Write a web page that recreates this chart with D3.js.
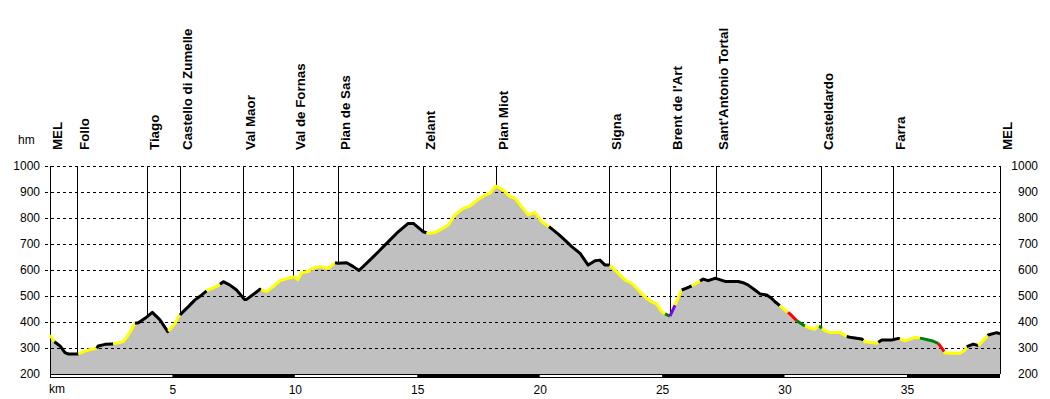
<!DOCTYPE html>
<html><head><meta charset="utf-8">
<script src="https://cdn.jsdelivr.net/npm/d3@7"></script>
<style>
body{margin:0;background:#fff}
text{font-family:Arial,"Liberation Sans",sans-serif}
</style>
</head><body>
<svg id="c" width="1050" height="399"></svg>
<script>
// ---- data ----
const kmPts = [0,0.18,0.41,0.61,0.75,1.16,1.29,1.56,1.91,1.97,2.25,2.52,2.99,3.20,3.47,3.61,3.88,4.18,4.49,4.81,4.90,5.11,5.24,5.44,5.65,5.92,6.20,6.40,6.87,7.08,7.35,7.62,7.94,8.03,8.58,8.85,9.12,9.39,9.73,10.01,10.12,10.28,10.55,10.69,11.03,11.37,11.64,11.77,12.12,12.39,12.62,13.00,13.41,13.82,14.22,14.63,14.84,15.25,15.45,15.72,15.93,16.27,16.54,16.88,17.15,17.43,17.77,17.97,18.20,18.51,18.79,18.99,19.26,19.53,19.81,20.08,20.42,20.76,21.03,21.31,21.65,21.98,22.26,22.46,22.67,22.87,23.14,23.48,23.76,23.96,24.16,24.37,24.57,24.78,24.98,25.12,25.32,25.53,25.73,25.80,26.00,26.27,26.55,26.68,26.88,27.16,27.29,27.57,28.11,28.31,28.52,28.79,29.00,29.27,29.47,29.61,29.81,30.02,30.22,30.50,30.77,31.04,31.24,31.38,31.45,31.65,31.86,32.26,32.54,32.74,33.15,33.29,33.76,33.97,34.38,34.65,34.92,35.33,35.60,36.01,36.28,36.48,36.55,36.83,37.17,37.37,37.44,37.71,37.92,38.19,38.32,38.66,38.80];
const elevPts = [350,324,308,282,277,277,283,292,299,308,314,315,324,350,395,397,414,437,408,363,372,395,420,440,459,485,504,520,540,555,542,523,487,487,526,517,536,559,568,574,562,590,594,606,613,606,628,626,628,613,598,632,670,709,747,779,779,747,741,744,754,773,812,837,846,867,888,895,923,908,882,876,844,812,821,786,764,738,715,690,664,619,636,638,619,619,594,562,549,530,510,491,478,469,440,431,423,465,510,523,530,542,558,565,559,568,565,556,556,551,542,523,508,504,491,478,463,446,431,405,388,376,372,385,382,367,360,360,344,340,335,324,318,331,331,337,328,341,337,328,318,292,282,280,280,292,305,315,309,337,350,359,355];

const waypointNames = ["MEL","Follo","Tiago","Castello di Zumelle","Val Maor","Val de Fornas","Pian de Sas","Zelant","Pian Miot","Signa","Brent de l'Art","Sant'Antonio Tortal","Casteldardo","Farra","MEL"];
const waypointKm = [0,1.10,3.97,5.32,7.89,9.93,11.78,15.24,18.20,22.83,25.32,27.21,31.50,34.42,38.80];

const segStartKm = [0,0.18,1.16,1.91,2.58,3.47,4.83,5.31,6.40,6.94,8.62,11.64,15.38,20.38,22.87,25.12,25.32,25.53,25.80,26.21,26.55,29.81,30.14,30.50,30.84,31.41,31.53,32.54,33.22,33.83,34.71,35.53,36.28,36.52,37.44,37.92,38.30];
const segType = ["y","k","y","k","y","k","y","k","y","k","y","k","y","k","y","g","v","y","k","y","k","y","r","g","y","g","y","k","y","k","y","g","r","y","k","y","k"];

const yTicks = [200,300,400,500,600,700,800,900,1000];
const xTicks = [5,10,15,20,25,30,35];
const totalKm = 38.8;

// ---- drawing ----
const typeColor = {y:"#ffff00", k:"#000000", g:"#008000", r:"#ff0000", v:"#8000ff"};
const svg = d3.select("#c");
const x = d3.scaleLinear().domain([0, totalKm]).range([50, 1000]);
const y = d3.scaleLinear().domain([200, 1000]).range([374, 166]);
const pts = kmPts.map((k,i)=>({k, e: elevPts[i]}));
const fmt = d3.format("d");
const FONT = "Arial, 'Liberation Sans', sans-serif";

function elevAt(k){
  const i = d3.bisectRight(kmPts, k);
  if (i <= 0) return elevPts[0];
  if (i >= kmPts.length) return elevPts[elevPts.length-1];
  const t = (k - kmPts[i-1]) / (kmPts[i] - kmPts[i-1]);
  return elevPts[i-1] + t * (elevPts[i] - elevPts[i-1]);
}

// filled area
svg.append("path").datum(pts)
  .attr("fill", "#c0c0c0")
  .attr("d", d3.area().x(d=>x(d.k)).y0(y(200)).y1(d=>y(d.e)));

// dashed gridlines
svg.append("g").selectAll("line").data(yTicks.filter(v=>v>200)).join("line")
  .attr("x1", 45).attr("x2", 1000)
  .attr("y1", d=>y(d)+0.5).attr("y2", d=>y(d)+0.5)
  .attr("stroke", "#000").attr("stroke-width", 1)
  .attr("stroke-dasharray", "3,3");

// left axis
const gl = svg.append("g").attr("transform", "translate(50,0)")
  .call(d3.axisLeft(y).tickValues(yTicks).tickFormat(fmt).tickSize(0).tickPadding(10));
gl.select(".domain").remove();
gl.selectAll("text").attr("font-size", 12).attr("fill", "#000").attr("font-family", FONT);

// right axis
const gr = svg.append("g").attr("transform", "translate(1000,0)")
  .call(d3.axisRight(y).tickValues(yTicks).tickFormat(fmt).tickSize(0).tickPadding(38));
gr.select(".domain").remove();
gr.selectAll("text").attr("text-anchor", "end").attr("font-size", 12).attr("fill", "#000").attr("font-family", FONT);

// bottom axis labels
const gb = svg.append("g").attr("transform", "translate(0,374)")
  .call(d3.axisBottom(x).tickValues(xTicks).tickFormat(fmt).tickSize(0).tickPadding(11));
gb.select(".domain").remove();
gb.selectAll("text").attr("font-size", 12).attr("fill", "#000").attr("font-family", FONT);

svg.append("text").attr("x", 49).attr("y", 393).attr("font-size", 12).text("km");
svg.append("text").attr("x", 18).attr("y", 144).attr("font-size", 12).text("hm");

// waypoint lines & labels
waypointKm.forEach((k,i)=>{
  const edge = (i === 0 || i === waypointKm.length-1);
  const xx = Math.round(x(k)) + 0.5;
  svg.append("line")
    .attr("x1", xx).attr("x2", xx)
    .attr("y1", 166).attr("y2", edge ? 374 : y(elevAt(k)))
    .attr("stroke", "#000").attr("stroke-width", 1);
  svg.append("text")
    .attr("transform", `translate(${xx+11},150) rotate(-90)`)
    .attr("font-size", 13.33).attr("font-weight", "bold").attr("fill", "#000")
    .text(waypointNames[i]);
});

// coloured profile line
const line = d3.line().x(d=>x(d.k)).y(d=>y(d.e));
segStartKm.forEach((s,i)=>{
  const e = i < segStartKm.length-1 ? segStartKm[i+1] : totalKm;
  const seg = [{k:s, e:elevAt(s)}]
    .concat(pts.filter(p=>p.k > s && p.k < e))
    .concat([{k:e, e:elevAt(e)}]);
  svg.append("path").datum(seg)
    .attr("fill", "none").attr("stroke", typeColor[segType[i]])
    .attr("stroke-width", 3).attr("stroke-linejoin", "round")
    .attr("d", line);
});

// distance bar
svg.append("rect").attr("x", 50.5).attr("y", 374.5).attr("width", 949).attr("height", 3)
  .attr("fill", "#fff").attr("stroke", "#000").attr("stroke-width", 1);
const barStarts = [5,15,25,35];
svg.append("g").selectAll("rect").data(barStarts).join("rect")
  .attr("x", d=>x(d)).attr("y", 374)
  .attr("width", d=>x(Math.min(d+5, totalKm)) - x(d)).attr("height", 4)
  .attr("fill", "#000");
</script>
</body></html>
